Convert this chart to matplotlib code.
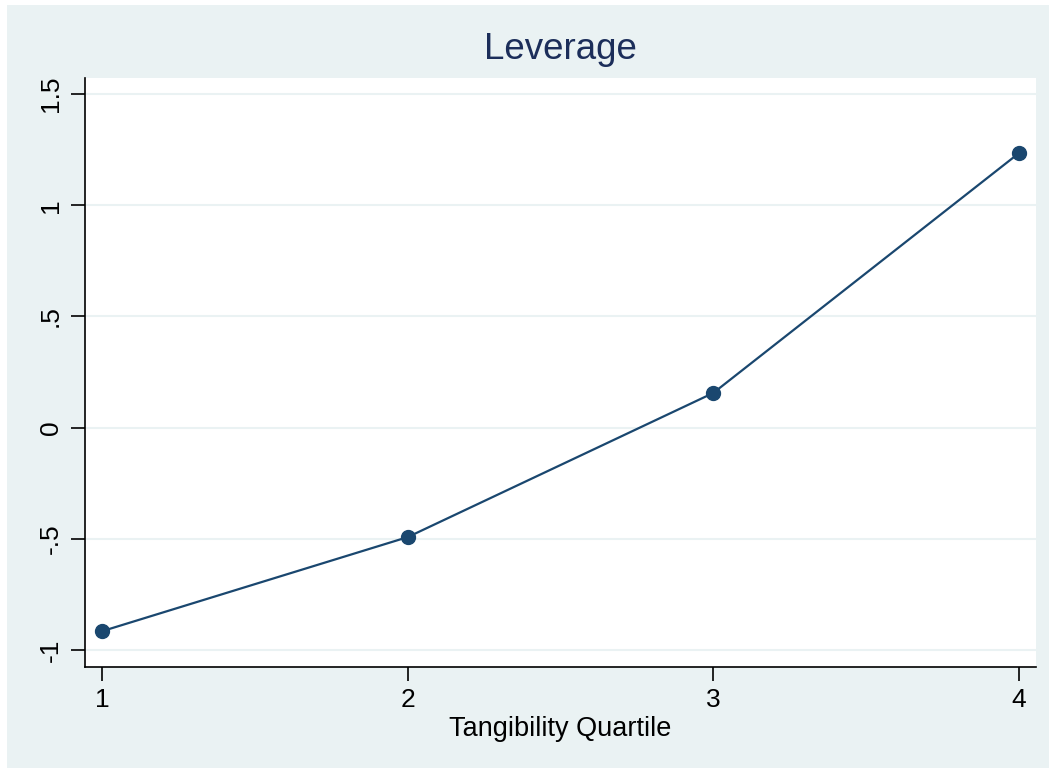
import matplotlib.pyplot as plt
from matplotlib.patches import Rectangle

plt.rcParams['font.family'] = ['Liberation Sans', 'DejaVu Sans']

quartile = [1, 2, 3, 4]
leverage = [-0.915, -0.492, 0.156, 1.234]
yticks = [-1, -0.5, 0, 0.5, 1, 1.5]
ytick_labels = ['-1', '-.5', '0', '.5', '1', '1.5']

navy = '#1a476f'
bg = '#eaf2f3'

fig = plt.figure(figsize=(10.49, 7.68), dpi=100)
fig.patch.set_facecolor('white')
fig.patches.append(Rectangle((7 / 1049, 0), 1 - 7 / 1049, 1 - 5 / 768,
                             transform=fig.transFigure, facecolor=bg,
                             edgecolor='none', zorder=-5))

ax = fig.add_axes([85 / 1049, 101 / 768, 951 / 1049, 589 / 768])
ax.set_facecolor('white')
ax.plot(quartile, leverage, color=navy, lw=1.6, marker='o', ms=10,
        markerfacecolor=navy, markeredgecolor=navy, zorder=3)

ax.set_xlim(0.944, 4.056)
ax.set_ylim(-1.076, 1.572)
ax.set_xticks(quartile)
ax.set_xticklabels([str(q) for q in quartile])
ax.set_yticks(yticks)
ax.set_yticklabels(ytick_labels, rotation=90, va='center')
ax.grid(axis='y', color=bg, lw=1.5, zorder=0)
ax.set_axisbelow(True)

for s in ['top', 'right']:
    ax.spines[s].set_visible(False)
for s in ['left', 'bottom']:
    ax.spines[s].set_color('black')
    ax.spines[s].set_linewidth(1.2)

ax.tick_params(axis='both', length=10, width=1.2, labelsize=19, pad=6)
ax.tick_params(axis='x', pad=5)
ax.set_xlabel('Tangibility Quartile', fontsize=19.5, labelpad=3)
ax.set_title('Leverage', fontsize=26.5, color='#1c2e5a', pad=14)

fig.savefig('out.png', dpi=100)
